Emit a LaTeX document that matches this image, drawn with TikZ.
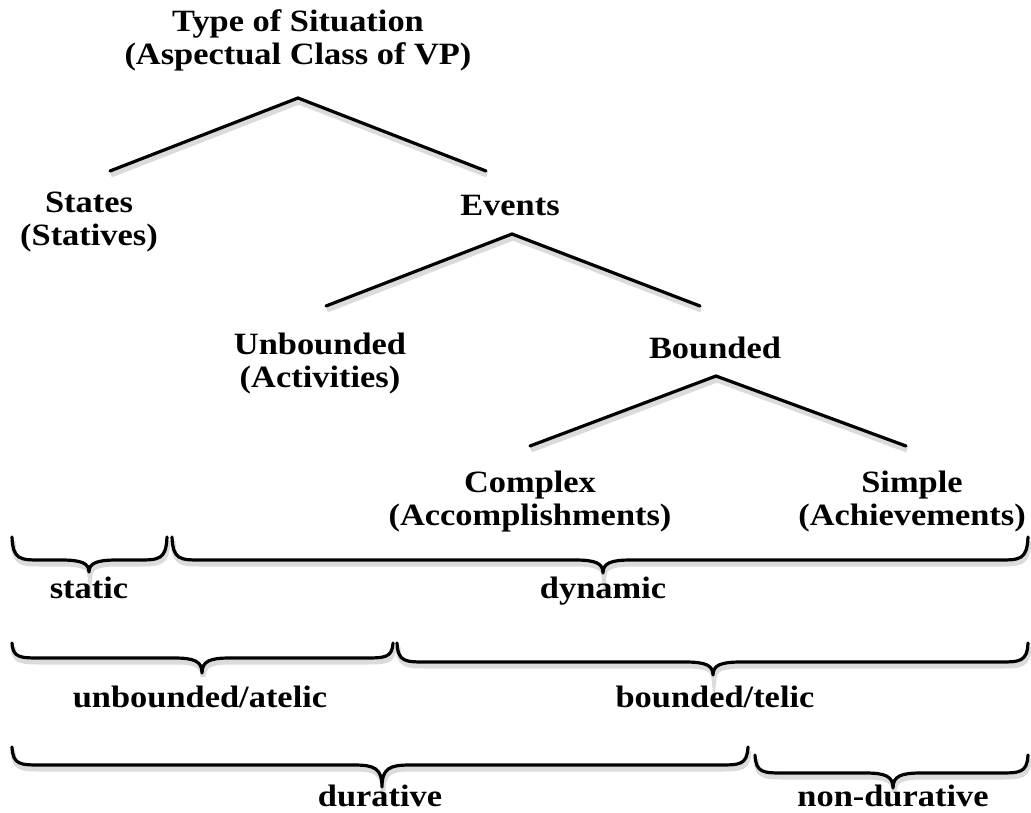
\documentclass[tikz,border=0pt]{standalone}
\usepackage{fontspec}
\setmainfont[FakeStretch=1.11]{Liberation Serif}
\usepackage{tikz}
\usetikzlibrary{positioning, calc}

\tikzset{
  label/.style={font=\fontsize{31}{33}\selectfont\bfseries, align=center, inner sep=0pt},
  bracelabel/.style={label, anchor=base},
  branch/.style={line width=3.2pt, line cap=round,
    preaction={draw=black!14, line width=5pt, transform canvas={shift={(1pt,-4pt)}}}},
  bracestyle/.style={line width=3.2pt, line cap=round, line join=round,
    preaction={draw=black!14, line width=5pt, transform canvas={shift={(1pt,-4pt)}}}}
}

% curly brace: x1, x2, x of tip, y of ends, y of line, y of tip
\newcommand{\curly}[6]{%
  \draw[bracestyle] (#1,#4) .. controls (#1+1,#5) and (#1+8,#5) .. (#1+30,#5)
    -- (#3-28,#5) .. controls (#3-8,#5) and (#3,#5+3) .. (#3,#6)
    .. controls (#3,#5+3) and (#3+8,#5) .. (#3+28,#5)
    -- (#2-30,#5) .. controls (#2-8,#5) and (#2-1,#5) .. (#2,#4);}

\begin{document}
\begin{tikzpicture}[x=1pt, y=-1pt]
    \useasboundingbox (0,0) rectangle (1031,812);

    % Tree labels
    \node[label] (sit) at (298,40) {Type of Situation\\(Aspectual Class of VP)};
    \node[label] (states) at (89,222) {States\\(Statives)};
    \node[label] (events) at (510,205) {Events};
    \node[label] (unbd) at (320,364) {Unbounded\\(Activities)};
    \node[label] (bd) at (715,348) {Bounded};
    \node[label] (cplx) at (530,502) {Complex\\(Accomplishments)};
    \node[label] (smpl) at (912,502) {Simple\\(Achievements)};

    % Branch points
    \coordinate (sit-top) at (298,98);
    \coordinate (sit-l) at (110,171);
    \coordinate (sit-r) at (486,171);
    \coordinate (ev-top) at (512,234);
    \coordinate (ev-l) at (326,306);
    \coordinate (ev-r) at (700,306);
    \coordinate (bd-top) at (716,376);
    \coordinate (bd-l) at (530,446);
    \coordinate (bd-r) at (906,446);

    \draw[branch] (sit-l) -- (sit-top) -- (sit-r);
    \draw[branch] (ev-l) -- (ev-top) -- (ev-r);
    \draw[branch] (bd-l) -- (bd-top) -- (bd-r);

    % Braces
    \curly{12}{167}{89}{537}{560}{572}
    \curly{172}{1028}{603}{537}{560}{573}
    \curly{12}{393}{202}{643}{658}{673}
    \curly{397}{1028}{713}{643}{662}{675}
    \curly{12}{748}{382}{747}{765}{787}
    \curly{755}{1028}{893}{755}{773}{788}

    % Brace labels
    \node[bracelabel] (stat) at (89,598) {static};
    \node[bracelabel] (dyn) at (603,598) {dynamic};
    \node[bracelabel] (atel) at (200,707) {unbounded/atelic};
    \node[bracelabel] (tel) at (715,707) {bounded/telic};
    \node[bracelabel] (dur) at (380,806) {durative};
    \node[bracelabel] (ndur) at (893,806) {non-durative};
\end{tikzpicture}
\end{document}
